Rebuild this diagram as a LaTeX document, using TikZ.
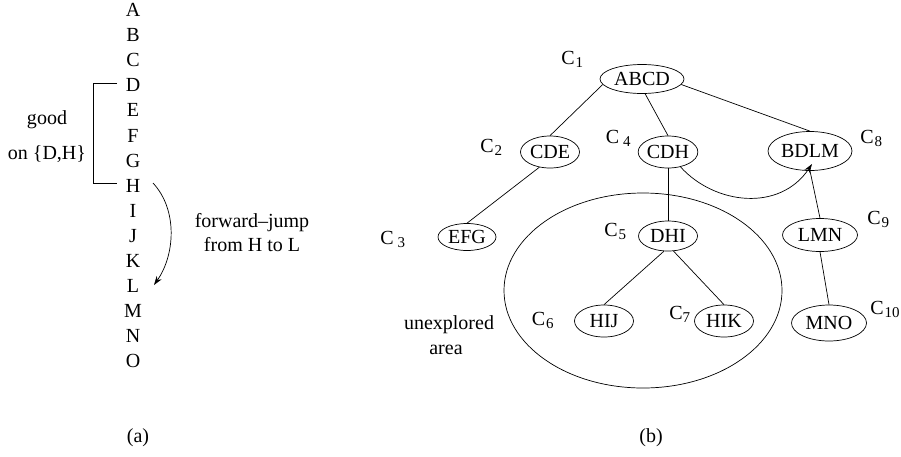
\documentclass[tikz,border=0pt]{standalone}
\usepackage{fontspec}
\setmainfont{Liberation Serif}
\usetikzlibrary{shapes.geometric,arrows.meta}
\newcommand\clab[2]{C\hspace{#1}\raisebox{-0.35ex}{\fontsize{15}{15}\selectfont #2}}
\begin{document}
\begin{tikzpicture}[x=1pt,y=-1pt,line width=0.7pt,
  every node/.style={font=\fontsize{20}{23}\selectfont},
  cl/.style={ellipse,draw,inner sep=0pt,line width=0.7pt},
  lab/.style={anchor=base west,inner sep=0pt},
  txt/.style={anchor=base,inner sep=0pt},
  tip/.style={-{Stealth[length=9pt,width=6pt]}}]
\useasboundingbox (0,0) rectangle (901,456);
% (a) letters
\foreach \L [count=\i from 0] in {A,B,C,D,E,F,G,H,I,J,K,L,M,N,O}
  \node[txt] (l\i) at (133,16.7+25.07*\i) {\L};
\draw (117,83) -- (93,83) -- (93,183) -- (117,183);
\node[txt] (good) at (47,124) {good};
\node[txt] (on) at (47,159) {on \{D,H\}};
\coordinate (ja) at (153,183);
\coordinate (jb) at (154,285);
\draw[tip] (ja) .. controls (178,210) and (175,255) .. (jb);
\node[txt] (fj) at (252,227) {forward--jump};
\node[txt] (fhl) at (252,251) {from H to L};
\node[txt] (capa) at (138,442) {(a)};
% (b) tree
\node[draw,ellipse,minimum width=278pt,minimum height=195pt,inner sep=0pt] (area) at (643,290.5) {};
\node[cl,minimum width=84pt,minimum height=29pt] (ABCD) at (642,79) {ABCD};
\node[cl,minimum width=59pt,minimum height=32pt] (CDE) at (550,152) {CDE};
\node[cl,minimum width=59pt,minimum height=32pt] (CDH) at (668,152) {CDH};
\node[cl,minimum width=84pt,minimum height=39pt] (BDLM) at (810,151) {BDLM};
\node[cl,minimum width=58pt,minimum height=27pt] (EFG) at (467,237) {EFG};
\node[cl,minimum width=59pt,minimum height=30pt] (DHI) at (668,236) {DHI};
\node[cl,minimum width=75pt,minimum height=33pt] (LMN) at (820,235) {LMN};
\node[cl,minimum width=59pt,minimum height=32pt] (HIJ) at (604,321) {HIJ};
\node[cl,minimum width=59pt,minimum height=32pt] (HIK) at (724,321) {HIK};
\node[cl,minimum width=75pt,minimum height=36pt] (MNO) at (829,323) {MNO};
\draw (ABCD.188) -- (CDE.north);
\draw (ABCD.-78) -- (CDH.north);
\draw (ABCD.-8) -- (BDLM.north);
\draw (CDE.-125) -- (EFG.north);
\draw (CDH.south) -- (DHI.north);
\draw (BDLM.south) -- (LMN.north);
\draw (LMN.south) -- (MNO.north);
\draw (DHI.-105) -- (HIJ.north);
\draw (DHI.-70) -- (HIK.north);
\coordinate (bt) at (812,164);
\draw[tip] (CDH.-50) .. controls (715,205) and (780,212) .. (bt);
% labels
\node[lab] (c1) at (561,64.3) {\clab{1pt}{1}};
\node[lab] (c2) at (480,152) {\clab{1pt}{2}};
\node[lab] (c3) at (380,244) {\clab{4pt}{3}};
\node[lab] (c4) at (605.5,143) {\clab{4pt}{4}};
\node[lab] (c5) at (604,236) {\clab{1pt}{5}};
\node[lab] (c6) at (531.5,325.5) {\clab{1pt}{6}};
\node[lab] (c7) at (669,319) {\clab{0pt}{7}};
\node[lab] (c8) at (860,143) {\clab{1pt}{8}};
\node[lab] (c9) at (867,224) {\clab{1pt}{9}};
\node[lab] (c10) at (870,314) {\clab{1pt}{10}};
\node[txt] (unex) at (449,329) {unexplored};
\node[txt] (ar) at (446,354) {area};
\node[txt] (capb) at (651,442) {(b)};
\end{tikzpicture}
\end{document}
